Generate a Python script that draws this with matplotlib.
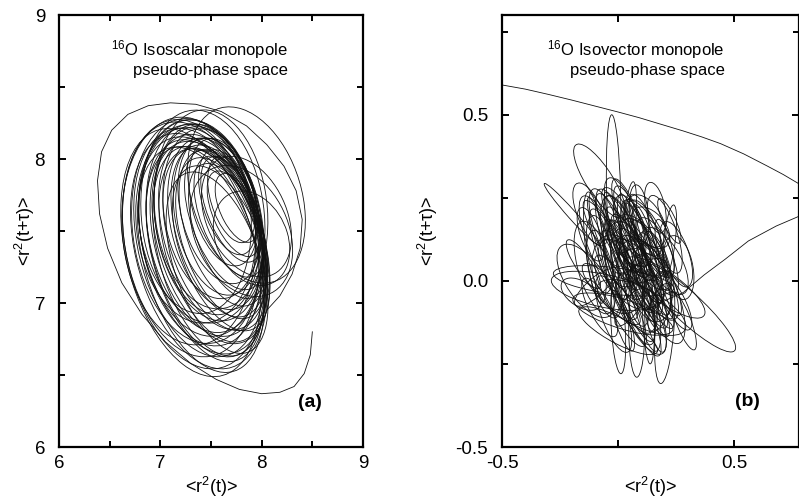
import matplotlib
matplotlib.use('Agg')
import matplotlib.pyplot as plt
from matplotlib.patches import Ellipse
from matplotlib.ticker import MultipleLocator

plt.rcParams['font.family'] = ['Liberation Sans', 'DejaVu Sans']
plt.rcParams['mathtext.fontset'] = 'custom'
plt.rcParams['mathtext.rm'] = 'Liberation Sans'
plt.rcParams['mathtext.it'] = 'Liberation Sans:italic'

# ---------------- panel (a): isoscalar monopole ----------------
# start of the trajectory (open transient curve)
a_tail_x = [8.50, 8.48, 8.42, 8.32, 8.18, 8.00, 7.78, 7.55, 7.30, 7.05, 6.82, 6.62, 6.48,
            6.40, 6.38, 6.42, 6.52, 6.68, 6.88, 7.10, 7.35, 7.60, 7.85, 8.05, 8.22, 8.34,
            8.40, 8.38, 8.30, 8.18, 8.05]
a_tail_y = [6.80, 6.64, 6.51, 6.42, 6.38, 6.37, 6.40, 6.47, 6.58, 6.73, 6.92, 7.14, 7.38,
            7.62, 7.85, 8.05, 8.20, 8.31, 8.37, 8.39, 8.38, 8.33, 8.23, 8.10, 7.95, 7.78,
            7.58, 7.38, 7.20, 7.05, 6.95]
# loops of the attractor: centre, loop length, loop width, tilt
a_cx = [7.33, 7.38, 7.30, 7.42, 7.36, 7.45, 7.40, 7.50, 7.44, 7.48, 7.52, 7.35, 7.55, 7.46,
        7.58, 7.40, 7.54, 7.62, 7.50, 7.64, 7.58, 7.68, 7.62, 7.70, 7.66, 7.72, 7.70, 7.75,
        7.30, 7.42, 7.28, 7.60, 7.56, 7.85, 7.85, 7.50, 7.80, 7.90,
        7.38, 7.46, 7.34, 7.52, 7.60, 7.44, 7.56, 7.40, 7.66, 7.48]
a_cy = [7.40, 7.36, 7.45, 7.40, 7.50, 7.38, 7.46, 7.42, 7.52, 7.36, 7.48, 7.55, 7.44, 7.58,
        7.50, 7.30, 7.55, 7.52, 7.62, 7.58, 7.64, 7.60, 7.70, 7.65, 7.70, 7.62, 7.72, 7.66,
        7.35, 7.60, 7.50, 7.38, 7.28, 7.75, 7.60, 7.65, 7.50, 7.45,
        7.42, 7.47, 7.60, 7.40, 7.45, 7.34, 7.60, 7.52, 7.50, 7.55]
a_len = [1.80, 1.76, 1.70, 1.64, 1.60, 1.62, 1.58, 1.54, 1.50, 1.56, 1.44, 1.40, 1.40, 1.36,
         1.30, 1.70, 1.26, 1.20, 1.22, 1.10, 1.08, 0.96, 0.94, 0.84, 0.80, 0.70, 0.66, 0.56,
         1.84, 1.50, 1.60, 1.30, 1.40, 1.36, 1.00, 1.40, 1.10, 0.80,
         1.68, 1.48, 1.36, 1.46, 1.24, 1.62, 1.14, 1.54, 1.06, 1.40]
a_wid = [1.30, 1.18, 1.28, 1.10, 1.24, 1.02, 1.14, 0.98, 1.10, 0.96, 0.92, 1.16, 0.86, 1.00,
         0.80, 1.06, 0.84, 0.70, 0.90, 0.62, 0.72, 0.52, 0.60, 0.44, 0.46, 0.36, 0.38, 0.30,
         1.22, 1.20, 1.30, 0.74, 0.80, 1.00, 0.70, 1.10, 0.80, 0.60,
         1.16, 1.02, 1.10, 0.90, 0.72, 0.98, 0.80, 1.18, 0.58, 1.02]
a_ang = [-64, -60, -68, -58, -70, -62, -66, -58, -68, -63, -60, -72, -57, -70,
         -60, -60, -64, -58, -68, -56, -62, -55, -64, -55, -60, -52, -60, -52,
         -62, -74, -75, -55, -58, -50, -40, -75, -35, -30,
         -63, -64, -76, -60, -58, -61, -66, -70, -56, -67]

# ---------------- panel (b): isovector monopole ----------------
b_top_x = [-0.52, -0.40, -0.30, -0.20, -0.10, 0.00, 0.09, 0.18, 0.28, 0.36, 0.44, 0.54,
           0.64, 0.71, 0.78, 0.90]
b_top_y = [0.592, 0.577, 0.561, 0.544, 0.526, 0.508, 0.491, 0.472, 0.451, 0.433, 0.413,
           0.382, 0.346, 0.320, 0.291, 0.237]
b_line_x = [0.12, 0.20, 0.28, 0.37, 0.46, 0.56, 0.68, 0.78, 0.90]
b_line_y = [-0.09, -0.06, -0.035, 0.018, 0.065, 0.120, 0.165, 0.195, 0.220]
b_cx = [0.05, 0.08, 0.02, 0.10, 0.06, 0.12, -0.02, 0.04, 0.14, 0.00, 0.09, 0.07, 0.16, -0.04,
        0.03, 0.11, 0.18, -0.06, 0.05, 0.13, 0.01, 0.20, 0.08, -0.08,
        -0.06, 0.02, -0.02, 0.10, 0.00, 0.20,
        -0.02, 0.00, 0.08, 0.20, 0.13, 0.04, -0.10, 0.22,
        0.30, -0.08, -0.20, -0.14, 0.26,
        0.10, 0.06, 0.15, -0.01, 0.12, 0.03, 0.17, 0.08, 0.00, 0.10, 0.14, -0.05,
        0.07, 0.04, 0.12, -0.03, 0.20, 0.09, 0.02, 0.16, -0.08, 0.24, 0.06, 0.11,
        0.01, 0.14, -0.12, 0.18, -0.10, 0.05, 0.22, -0.15, 0.08, 0.13, -0.04,
        0.15, -0.06, 0.10, 0.20, -0.10, 0.04, 0.18, 0.00, 0.12, -0.02, 0.08, 0.06,
        0.25, -0.12, 0.16, -0.16, 0.28, 0.10, 0.02, 0.14]
b_cy = [0.08, 0.05, 0.10, 0.02, 0.12, 0.08, 0.05, -0.02, 0.04, 0.15, 0.10, 0.00, 0.10, 0.12,
        0.04, -0.04, 0.02, 0.02, 0.18, 0.14, -0.06, 0.06, 0.07, 0.08,
        -0.03, -0.10, 0.00, -0.08, -0.15, -0.02,
        0.27, -0.14, -0.14, -0.14, -0.10, 0.12, 0.10, 0.12,
        -0.08, 0.30, 0.20, 0.00, 0.04,
        0.06, 0.14, 0.00, 0.08, 0.12, 0.02, 0.06, -0.02, 0.20, 0.16, -0.06, 0.16,
        0.09, 0.06, 0.03, -0.04, 0.10, 0.20, -0.12, -0.12, -0.08, -0.06, 0.03, 0.09,
        0.12, 0.16, 0.14, -0.08, -0.02, -0.08, 0.18, 0.05, 0.04, 0.06, 0.06,
        0.10, 0.10, -0.10, 0.14, 0.04, 0.16, -0.04, 0.02, 0.18, -0.10, 0.12, -0.05,
        0.08, 0.20, 0.22, -0.04, -0.12, 0.02, 0.08, -0.02]
b_len = [0.40, 0.36, 0.34, 0.42, 0.30, 0.28, 0.38, 0.40, 0.32, 0.30, 0.26, 0.34, 0.22, 0.32,
         0.50, 0.36, 0.30, 0.28, 0.24, 0.28, 0.34, 0.26, 0.20, 0.24,
         0.46, 0.44, 0.52, 0.40, 0.36, 0.38,
         0.06, 0.06, 0.07, 0.08, 0.05, 0.06, 0.08, 0.05,
         0.48, 0.30, 0.30, 0.30, 0.20,
         0.30, 0.26, 0.30, 0.22, 0.24, 0.28, 0.20, 0.24, 0.20, 0.22, 0.26, 0.26,
         0.16, 0.14, 0.18, 0.30, 0.18, 0.18, 0.20, 0.20, 0.22, 0.22, 0.36, 0.34,
         0.32, 0.18, 0.18, 0.16, 0.20, 0.16, 0.16, 0.20, 0.44, 0.40, 0.42,
         0.34, 0.36, 0.30, 0.26, 0.30, 0.34, 0.34, 0.26, 0.20, 0.26, 0.42, 0.42,
         0.22, 0.22, 0.16, 0.18, 0.20, 0.24, 0.20, 0.22]
b_wid = [0.12, 0.10, 0.14, 0.09, 0.08, 0.12, 0.10, 0.12, 0.10, 0.10, 0.14, 0.16, 0.10, 0.08,
         0.12, 0.10, 0.08, 0.12, 0.08, 0.08, 0.10, 0.12, 0.06, 0.10,
         0.10, 0.09, 0.08, 0.12, 0.08, 0.10,
         0.46, 0.28, 0.30, 0.34, 0.30, 0.36, 0.34, 0.22,
         0.10, 0.10, 0.03, 0.14, 0.12,
         0.10, 0.12, 0.12, 0.08, 0.06, 0.14, 0.08, 0.10, 0.08, 0.10, 0.08, 0.10,
         0.08, 0.06, 0.06, 0.08, 0.06, 0.08, 0.06, 0.07, 0.08, 0.08, 0.06, 0.07,
         0.06, 0.10, 0.08, 0.08, 0.06, 0.06, 0.05, 0.06, 0.10, 0.08, 0.06,
         0.12, 0.12, 0.12, 0.10, 0.14, 0.12, 0.14, 0.20, 0.12, 0.10, 0.10, 0.10,
         0.10, 0.10, 0.08, 0.08, 0.06, 0.18, 0.16, 0.16]
b_ang = [-60, -55, -65, -50, -70, -45, -60, -58, -62, -55, -40, -65, -50, -48,
         -62, -72, -55, -68, -60, -58, -52, -45, -30, -75,
         -8, -12, -5, -18, -20, -25,
         2, 5, 0, -6, 3, -8, 10, -10,
         -32, -45, -38, -40, -70,
         -55, -62, -48, -70, -65, -40, -60, -75, -50, -45, -55, -62,
         -20, 20, 15, -35, -70, -80, -65, -70, -50, -50, -58, -62,
         -66, -30, -60, 60, 30, 40, -55, -45, -55, -60, -65,
         -55, -58, -50, -62, -65, -60, -58, -50, -40, -60, -62, -56,
         -60, -55, -70, -20, -60, -45, -70, -60]

fig = plt.figure(figsize=(7.99, 4.99), dpi=100)
axA = fig.add_axes([59 / 799, 1 - 447 / 499, 304 / 799, 432 / 499])
axB = fig.add_axes([502 / 799, 1 - 447 / 499, 297.5 / 799, 432 / 499])

LW = 0.6
COL = '#111111'

axA.plot(a_tail_x, a_tail_y, color=COL, lw=LW)
for cx, cy, w, h, ang in zip(a_cx, a_cy, a_len, a_wid, a_ang):
    axA.add_patch(Ellipse((cx, cy), w, h, angle=ang, fill=False, lw=LW, ec=COL))

axB.plot(b_top_x, b_top_y, color=COL, lw=LW)
axB.plot(b_line_x, b_line_y, color=COL, lw=LW)
for cx, cy, w, h, ang in zip(b_cx, b_cy, b_len, b_wid, b_ang):
    axB.add_patch(Ellipse((cx, cy), w, h, angle=ang, fill=False, lw=LW, ec=COL))

for ax in (axA, axB):
    for s in ax.spines.values():
        s.set_linewidth(1.6)
    ax.tick_params(which='both', direction='in', top=True, right=True, width=1.4,
                   labelsize=13.5)
    ax.tick_params(axis='x', which='both', pad=6)
    ax.tick_params(axis='y', which='both', pad=10)
    ax.tick_params(which='major', length=5)
    ax.tick_params(which='minor', length=4)

axA.set_xlim(6, 9)
axA.set_ylim(6, 9)
axA.xaxis.set_major_locator(MultipleLocator(1))
axA.xaxis.set_minor_locator(MultipleLocator(0.5))
axA.yaxis.set_major_locator(MultipleLocator(1))
axA.yaxis.set_minor_locator(MultipleLocator(0.5))

axB.set_xlim(-0.5, 0.78)
axB.set_ylim(-0.5, 0.8)
axB.set_xticks([-0.5, 0.0, 0.5])
axB.set_xticklabels(['-0.5', '', '0.5'])
axB.set_yticks([-0.5, 0.0, 0.5])
axB.set_yticklabels(['-0.5', '0.0', '0.5'])
axB.yaxis.set_minor_locator(MultipleLocator(0.25))

for ax in (axA, axB):
    ax.set_xlabel('<r$^2$(t)>', fontsize=13, labelpad=2)
axA.set_ylabel('<r$^2$(t+τ)>', fontsize=13, labelpad=-2)
axB.set_ylabel('<r$^2$(t+τ)>', fontsize=13, labelpad=11)

axA.text(8.26, 8.84, '$^{16}$O Isoscalar monopole\npseudo-phase space', ha='right', va='top',
         multialignment='right', fontsize=12, linespacing=1.15)
axB.text(0.457, 0.73, '$^{16}$O Isovector monopole\npseudo-phase space', ha='right', va='top',
         multialignment='right', fontsize=12, linespacing=1.15)

axA.text(8.48, 6.31, '(a)', ha='center', va='center', fontsize=14, fontweight='bold')
axB.text(0.556, -0.364, '(b)', ha='center', va='center', fontsize=14, fontweight='bold')

fig.savefig('out.png', dpi=100)
